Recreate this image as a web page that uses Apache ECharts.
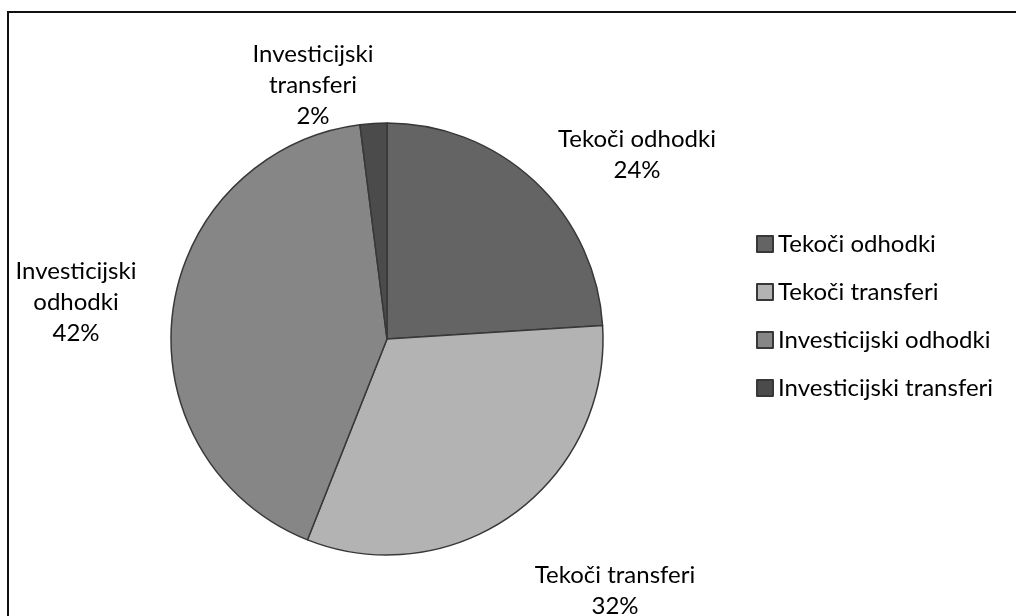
<!DOCTYPE html>
<html>
<head>
<meta charset="utf-8">
<script src="https://cdn.jsdelivr.net/npm/echarts@6/dist/echarts.min.js"></script>
<style>
  html, body { margin: 0; padding: 0; background: #fff; }
  #chart { width: 1016px; height: 616px; }
</style>
</head>
<body>
<div id="chart"></div>
<script>
// podatki
var categories = ['Tekoči odhodki', 'Tekoči transferi', 'Investicijski odhodki', 'Investicijski transferi'];
var shares = [24, 32, 42, 2];
var sliceColors = ['#646464', '#b3b3b3', '#868686', '#4b4b4b'];
// oznake na grafu (tekst, lomljen v vrstice)
var labelTexts = ['Tekoči odhodki', 'Tekoči transferi', 'Investicijski\nodhodki', 'Investicijski\ntransferi'];
var labelPos = [[637, 155], [615, 591], [76, 302], [313, 85]];

var chart = echarts.init(document.getElementById('chart'));
var font = 'Lato, "Open Sans", sans-serif';

chart.setOption({
  animation: false,
  textStyle: { fontFamily: font },
  graphic: [{
    type: 'rect',
    shape: { x: 8, y: 12, width: 1100, height: 700 },
    style: { fill: 'none', stroke: '#111', lineWidth: 2 }
  }],
  legend: {
    orient: 'vertical',
    left: 751,
    top: 227,
    itemWidth: 16,
    itemHeight: 16,
    itemGap: 24,
    icon: 'rect',
    data: categories,
    textStyle: { fontFamily: font, fontSize: 24, lineHeight: 24, color: '#000' }
  },
  series: [{
    type: 'pie',
    center: [387, 339],
    radius: 216,
    startAngle: 90,
    clockwise: true,
    data: categories.map(function (c, i) {
      return { name: c, value: shares[i], itemStyle: { color: sliceColors[i] } };
    }),
    itemStyle: { borderColor: '#383838', borderWidth: 1.5 },
    label: {
      show: true,
      position: 'inside',
      color: '#000',
      fontFamily: font,
      fontSize: 24,
      lineHeight: 31,
      align: 'center',
      overflow: 'none',
      formatter: function (p) {
        return labelTexts[p.dataIndex] + '\n' + Math.round(p.percent) + '%';
      }
    },
    labelLine: { show: false },
    labelLayout: function (p) {
      var pos = labelPos[p.dataIndex];
      return { x: pos[0], y: pos[1], align: 'center', verticalAlign: 'middle' };
    },
    emphasis: { disabled: true }
  }]
});
</script>
</body>
</html>
